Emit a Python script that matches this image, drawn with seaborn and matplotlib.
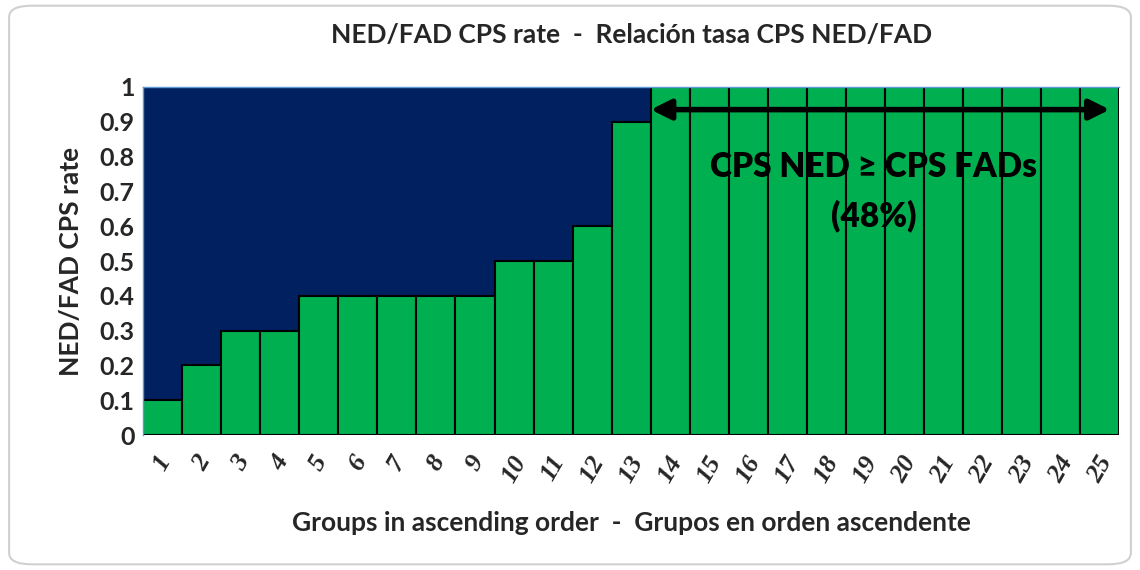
import numpy as np
import pandas as pd
import matplotlib
matplotlib.use("Agg")
import matplotlib.pyplot as plt
import seaborn as sns
from matplotlib.patches import FancyBboxPatch

# data
groups = [str(i) for i in range(1, 26)]
rates = [0.1, 0.2, 0.3, 0.3, 0.4, 0.4, 0.4, 0.4, 0.4, 0.5, 0.5, 0.6, 0.9,
         1, 1, 1, 1, 1, 1, 1, 1, 1, 1, 1, 1]
yticks = [0, 0.1, 0.2, 0.3, 0.4, 0.5, 0.6, 0.7, 0.8, 0.9, 1]
ytick_labels = ["0", "0.1", "0.2", "0.3", "0.4", "0.5", "0.6", "0.7", "0.8", "0.9", "1"]

navy = "#002060"
green = "#00B050"

sns.set_style("white")
plt.rcParams['font.family'] = ['Lato', 'DejaVu Sans']

df = pd.DataFrame({"group": groups, "rate": rates})

fig = plt.figure(figsize=(11.4, 5.7), dpi=100)
ax = fig.add_axes([0.1254, 0.2368, 0.8566, 0.6106])

# rounded frame round the whole chart
frame = FancyBboxPatch((0.008, 0.01), 0.984, 0.98, boxstyle="round,pad=0,rounding_size=0.02",
                       transform=fig.transFigure, facecolor="none", edgecolor="#d0d0d0",
                       linewidth=1.5, zorder=0)
fig.patches.append(frame)

sns.barplot(data=df, x="group", y="rate", color=green, saturation=1, width=1,
            edgecolor="black", linewidth=1.5, ax=ax)
ax.set_facecolor(navy)
ax.set_xlim(-0.5, 24.5)
ax.set_ylim(0, 1)
for s in ["right", "bottom"]:
    ax.spines[s].set_visible(False)
for s in ["left", "top"]:
    ax.spines[s].set_color("#5b9bd5")
    ax.spines[s].set_linewidth(1)

ax.set_yticks(yticks)
ax.set_yticklabels(ytick_labels, fontsize=18, fontweight="bold")
ax.set_xticks(range(len(groups)))
ax.set_xticklabels(groups, rotation=60, ha="center", va="top", fontsize=19,
                   fontweight="bold", fontstyle="italic", family="Liberation Serif")
ax.tick_params(axis="both", length=0, pad=6)
ax.tick_params(axis="x", pad=12)

ax.set_xlabel("Groups in ascending order  -  Grupos en orden ascendente",
              fontsize=19, fontweight="bold", labelpad=18)
ax.set_ylabel("NED/FAD CPS rate", fontsize=19, fontweight="bold", labelpad=12)
ax.set_title("NED/FAD CPS rate  -  Relación tasa CPS NED/FAD",
             fontsize=19, fontweight="bold", pad=32)

# double-headed arrow over the groups at 1
ax.annotate("", xy=(12.5, 0.935), xytext=(24.25, 0.935),
            arrowprops=dict(arrowstyle="<|-|>", color="black", lw=4,
                            mutation_scale=30, shrinkA=0, shrinkB=0))
ax.text(18.2, 0.77, "CPS NED ≥ CPS FADs", ha="center", va="center",
        fontsize=24, fontweight="heavy", color="black")
ax.text(18.2, 0.63, "(48%)", ha="center", va="center",
        fontsize=24, fontweight="heavy", color="black")

fig.savefig("out.png", dpi=100)
